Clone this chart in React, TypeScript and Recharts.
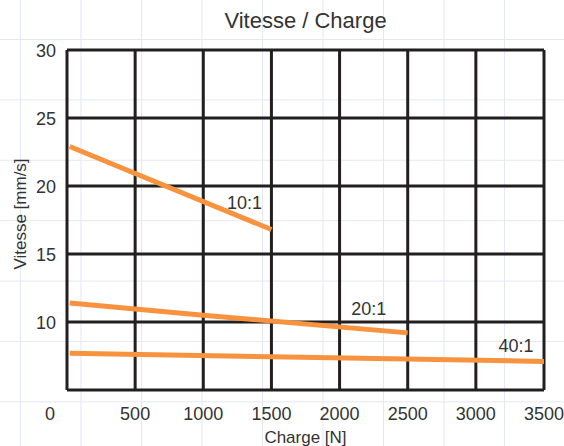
import React from "react";
import {
  LineChart,
  Line,
  XAxis,
  YAxis,
  CartesianGrid,
  LabelList,
  Label,
} from "recharts";

const loads10 = [20, 1500];
const speeds10 = [22.9, 16.8];
const loads20 = [20, 1000, 2500];
const speeds20 = [11.4, 10.5, 9.2];
const loads40 = [20, 1500, 3500];
const speeds40 = [7.7, 7.45, 7.1];

const ratioNames = ["10:1", "20:1", "40:1"];
const xTicks = [0, 500, 1000, 1500, 2000, 2500, 3000, 3500];
const yTicks = [5, 10, 15, 20, 25, 30];

const FONT = "'Liberation Sans', Arial, sans-serif";
const TEXT = "#333333";
const ORANGE = "#f7933f";

const toRows = (loads: number[], speeds: number[]) =>
  loads.map((x, i) => ({ x, y: speeds[i] }));

const series = [
  { name: ratioNames[0], data: toRows(loads10, speeds10), dx: -27, dy: -27 },
  { name: ratioNames[1], data: toRows(loads20, speeds20), dx: -39, dy: -24 },
  { name: ratioNames[2], data: toRows(loads40, speeds40), dx: -28, dy: -16 },
];

function XTick(props: any) {
  const { x, y, payload } = props;
  const shift = payload.value === 0 ? -17 : 0;
  return (
    <text
      x={x + shift}
      y={y + 28}
      textAnchor="middle"
      fill={TEXT}
      fontSize={18}
      fontFamily={FONT}
    >
      {payload.value}
    </text>
  );
}

function YTick(props: any) {
  const { x, y, payload } = props;
  if (payload.value === 5) return null;
  return (
    <text
      x={x - 9}
      y={y + 6.5}
      textAnchor="end"
      fill={TEXT}
      fontSize={18}
      fontFamily={FONT}
    >
      {payload.value}
    </text>
  );
}

const endLabel = (name: string, count: number, dx: number, dy: number) =>
  function EndLabel(props: any) {
    const { x, y, index } = props;
    if (index !== count - 1) return null;
    return (
      <text
        x={x + dx}
        y={y + dy + 6.5}
        textAnchor="middle"
        fill={TEXT}
        fontSize={18}
        fontFamily={FONT}
      >
        {name}
      </text>
    );
  };

export default function App() {
  return (
    <div
      style={{
        position: "absolute",
        left: 0,
        top: 0,
        width: 564,
        height: 446,
        backgroundColor: "#ffffff",
        backgroundImage:
          "linear-gradient(to right, #e4e7f4 1px, transparent 1px), linear-gradient(to bottom, #e4e7f4 1px, transparent 1px)",
        backgroundSize: "60.5px 60.4px",
        backgroundPosition: "20px 39px",
      }}
    >
      <div
        style={{
          position: "absolute",
          left: 0,
          top: 8,
          width: 611,
          textAlign: "center",
          fontFamily: FONT,
          fontSize: 22,
          color: TEXT,
        }}
      >
        Vitesse / Charge
      </div>
      <LineChart
        width={564}
        height={446}
        margin={{ top: 50, right: 20, left: 0, bottom: 0 }}
        style={{ position: "absolute", left: 0, top: 0 }}
      >
        <CartesianGrid stroke="#231f20" strokeWidth={3} ticks={yTicks as any} />
        <XAxis
          type="number"
          dataKey="x"
          domain={[0, 3500]}
          ticks={xTicks}
          height={56}
          axisLine={false}
          tickLine={false}
          tickSize={0}
          tick={<XTick />}
          interval={0}
        >
          <Label
            content={(p: any) => (
              <text
                x={p.viewBox.x + p.viewBox.width / 2}
                y={443}
                textAnchor="middle"
                fill={TEXT}
                fontSize={17}
                fontFamily={FONT}
              >
                Charge [N]
              </text>
            )}
          />
        </XAxis>
        <YAxis
          type="number"
          domain={[5, 30]}
          ticks={yTicks}
          width={67}
          axisLine={false}
          tickLine={false}
          tickSize={0}
          tick={<YTick />}
          interval={0}
        >
          <Label
            content={() => (
              <text
                x={26}
                y={214}
                transform="rotate(-90 26 214)"
                textAnchor="middle"
                fill={TEXT}
                fontSize={17}
                fontFamily={FONT}
              >
                Vitesse [mm/s]
              </text>
            )}
          />
        </YAxis>
        {series.map((s) => (
          <Line
            key={s.name}
            data={s.data}
            dataKey="y"
            type="linear"
            stroke={ORANGE}
            strokeWidth={5}
            dot={false}
            activeDot={false}
            isAnimationActive={false}
          >
            <LabelList
              dataKey="y"
              content={endLabel(s.name, s.data.length, s.dx, s.dy)}
            />
          </Line>
        ))}
      </LineChart>
    </div>
  );
}
